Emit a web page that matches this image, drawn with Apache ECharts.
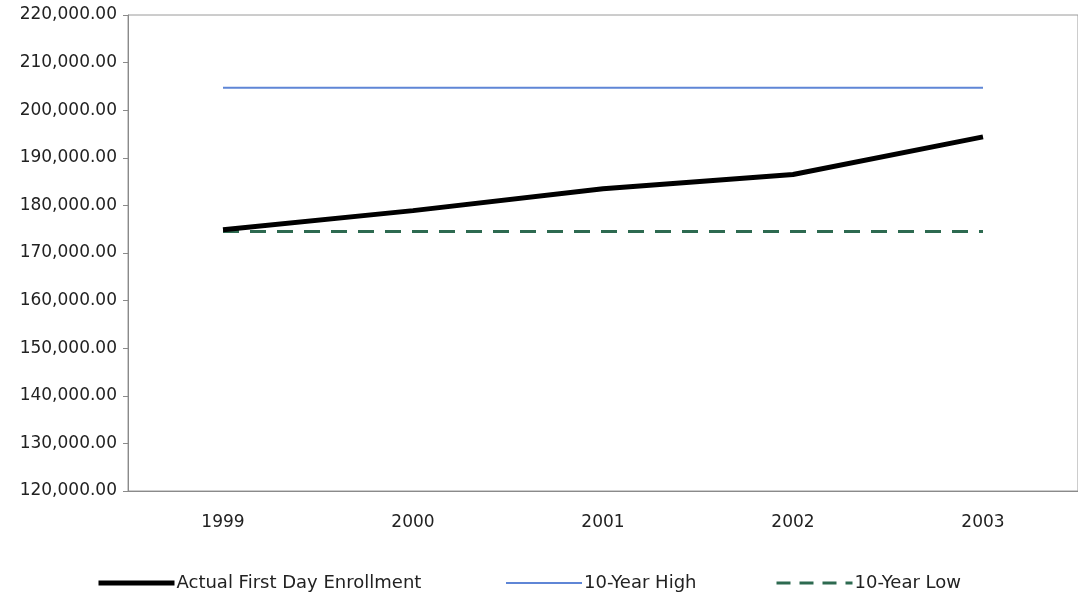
<!DOCTYPE html>
<html>
<head>
<meta charset="utf-8">
<script src="https://cdn.jsdelivr.net/npm/echarts@6/dist/echarts.min.js"></script>
<style>
	html, body { margin: 0; padding: 0; background: #fff; }
	#main { width: 1078px; height: 595px; }
</style>
</head>
<body>
<div id="main"></div>
<script>
var years = ['1999', '2000', '2001', '2002', '2003'];
var actualEnrollment = [174900, 178900, 183500, 186500, 194400];
var tenYearHigh = [204700, 204700, 204700, 204700, 204700];
var tenYearLow = [174500, 174500, 174500, 174500, 174500];

var chart = echarts.init(document.getElementById('main'));
var font = 'DejaVu Sans, Arial, sans-serif';

// one legend per entry so each can sit where the original has it
function legendAt(left, name, lineStyle) {
	return {
		left: left,
		top: 569,
		itemWidth: 76,
		itemHeight: 14,
		itemGap: 0,
		itemStyle: { opacity: 0 },
		lineStyle: lineStyle,
		textStyle: { fontFamily: font, fontSize: 18, color: '#222', padding: [0, 0, 0, -3] },
		data: [name]
	};
}

var option = {
	animation: false,
	backgroundColor: '#fff',
	textStyle: { fontFamily: font },
	grid: {
		left: 128,
		right: -5,
		top: 15,
		bottom: 104,
		show: true,
		borderColor: '#9a9a9a',
		borderWidth: 1
	},
	legend: [
		legendAt(91, 'Actual First Day Enrollment', { width: 5 }),
		legendAt(500, '10-Year High', { width: 2 }),
		legendAt(770, '10-Year Low', { width: 3, type: [14, 9] })
	],
	xAxis: {
		type: 'category',
		data: years,
		boundaryGap: true,
		axisLine: { lineStyle: { color: '#8a8a8a', width: 1 } },
		axisTick: { show: false },
		axisLabel: { margin: 23, fontSize: 17, color: '#222', fontFamily: font }
	},
	yAxis: {
		type: 'value',
		min: 120000,
		max: 220000,
		interval: 10000,
		splitLine: { show: false },
		axisLine: { show: true, lineStyle: { color: '#8a8a8a', width: 1 } },
		axisTick: { show: true, length: 5, lineStyle: { color: '#8a8a8a' } },
		axisLabel: {
			margin: 11,
			fontSize: 17,
			color: '#222',
			fontFamily: font,
			formatter: function(v) {
				return v.toLocaleString('en-US', { minimumFractionDigits: 2, maximumFractionDigits: 2 });
			}
		}
	},
	series: [{
		name: 'Actual First Day Enrollment',
		type: 'line',
		data: actualEnrollment,
		symbol: 'none',
		z: 3,
		lineStyle: { color: '#000', width: 5 },
		itemStyle: { color: '#000' }
	}, {
		name: '10-Year High',
		type: 'line',
		data: tenYearHigh,
		symbol: 'none',
		lineStyle: { color: '#5f86d6', width: 2 },
		itemStyle: { color: '#5f86d6' }
	}, {
		name: '10-Year Low',
		type: 'line',
		data: tenYearLow,
		symbol: 'none',
		z: 2,
		lineStyle: { color: '#2d6a50', width: 3, type: [16, 11] },
		itemStyle: { color: '#2d6a50' }
	}]
};

chart.setOption(option);
</script>
</body>
</html>
